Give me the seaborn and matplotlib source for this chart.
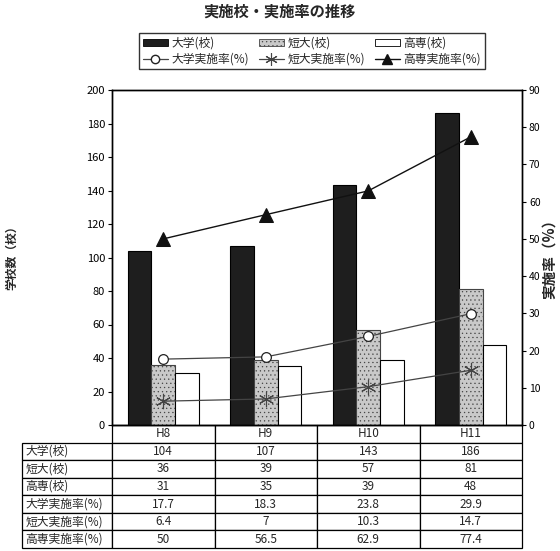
import matplotlib
matplotlib.use("Agg")
import matplotlib.pyplot as plt
from matplotlib.patches import Patch
from matplotlib.lines import Line2D
import pandas as pd
import seaborn as sns

years = ["H8", "H9", "H10", "H11"]
univ_schools = [104, 107, 143, 186]
jc_schools = [36, 39, 57, 81]
kosen_schools = [31, 35, 39, 48]
univ_rate = [17.7, 18.3, 23.8, 29.9]
jc_rate = [6.4, 7, 10.3, 14.7]
kosen_rate = [50, 56.5, 62.9, 77.4]

bar_labels = ["大学(校)", "短大(校)", "高専(校)"]
rate_labels = ["大学実施率(%)", "短大実施率(%)", "高専実施率(%)"]

sns.set_style("white")
plt.rcParams["font.family"] = ["Noto Sans CJK JP", "DejaVu Sans"]
plt.rcParams["hatch.linewidth"] = 0.4

bars_df = pd.DataFrame({
    "year": years * 3,
    "kind": [bar_labels[0]] * 4 + [bar_labels[1]] * 4 + [bar_labels[2]] * 4,
    "count": univ_schools + jc_schools + kosen_schools,
})
rates_df = pd.DataFrame({
    "year": years,
    "univ": univ_rate,
    "jc": jc_rate,
    "kosen": kosen_rate,
})

W, H = 560, 551
fig = plt.figure(figsize=(W / 100, H / 100), dpi=100)
x0, x1, y_top, y_bot = 112, 522, 90, 425
ax = fig.add_axes([x0 / W, 1 - y_bot / H, (x1 - x0) / W, (y_bot - y_top) / H])

bar_colors = ["#1e1e1e", "#c9c9c9", "white"]
sns.barplot(data=bars_df, x="year", y="count", hue="kind", palette=bar_colors,
            width=0.69, gap=0, edgecolor="black", linewidth=0.8,
            legend=False, ax=ax)
for cont, hatch in zip(ax.containers, [None, "....", None]):
    for p in cont:
        if hatch:
            p.set_hatch(hatch)
            p.set_edgecolor("#444444")

ax.set_ylim(0, 200)
ax.set_yticks(range(0, 201, 20))
ax.set_xlabel("")
ax.set_ylabel("")
ax.tick_params(axis="x", bottom=False, labelbottom=False)
ax.tick_params(axis="y", left=True, direction="out", length=3, width=0.8,
               labelsize=8, pad=2, colors="black")

ax2 = ax.twinx()
sns.pointplot(data=rates_df, x="year", y="univ", ax=ax2, color="#444444",
              marker="o", markersize=7, markerfacecolor="white",
              markeredgecolor="#222222", markeredgewidth=0.9, linewidth=0.9,
              errorbar=None)
sns.pointplot(data=rates_df, x="year", y="jc", ax=ax2, color="#444444",
              marker=(6, 2, 0), markersize=11, markeredgewidth=0.8,
              linewidth=0.9, errorbar=None)
sns.pointplot(data=rates_df, x="year", y="kosen", ax=ax2, color="#111111",
              marker="^", markersize=10, linewidth=1.0, errorbar=None)
ax2.set_ylim(0, 90)
ax2.set_yticks(range(0, 91, 10))
ax2.set_xlabel("")
ax2.set_ylabel("")
ax2.tick_params(axis="x", bottom=False, labelbottom=False)
ax2.tick_params(axis="y", right=True, direction="out", length=3, width=0.8,
                labelsize=7.5, pad=2, colors="black")

for a in (ax, ax2):
    for s in a.spines.values():
        s.set_visible(True)
        s.set_color("black")
        s.set_linewidth(1)

# data table under the plot
fmt = lambda v: f"{v:g}"
cell_text = [[""] + years]
for lab, vals in zip(bar_labels + rate_labels,
                     [univ_schools, jc_schools, kosen_schools,
                      univ_rate, jc_rate, kosen_rate]):
    cell_text.append([lab] + [fmt(v) for v in vals])

tx0, tbot = 22, 548
aw, ah = x1 - x0, y_bot - y_top
col_w = [90, 102.5, 102.5, 102.5, 102.5]
tbl = ax.table(cellText=cell_text, cellLoc="center",
               colWidths=[c / sum(col_w) for c in col_w],
               bbox=[(tx0 - x0) / aw, -(tbot - y_bot) / ah,
                     (x1 - tx0) / aw, (tbot - y_bot) / ah])
tbl.auto_set_font_size(False)
tbl.set_fontsize(8.5)
for (r, c), cell in tbl.get_celld().items():
    cell.set_linewidth(0.9)
    cell.set_edgecolor("black")
    if r == 0 and c == 0:
        cell.visible_edges = ""
    elif c == 0:
        cell.PAD = 0.04
        cell.get_text().set_horizontalalignment("left")

# legend box above the plot
handles = [
    Patch(facecolor=bar_colors[0], edgecolor="black", linewidth=0.6),
    Line2D([], [], color="#444444", marker="o", markerfacecolor="white",
           markeredgecolor="#222222", markersize=6, linewidth=0.9),
    Patch(facecolor=bar_colors[1], edgecolor="#444444", hatch="....", linewidth=0.6),
    Line2D([], [], color="#444444", marker=(6, 2, 0), markersize=9,
           markeredgewidth=0.8, linewidth=0.9),
    Patch(facecolor="white", edgecolor="black", linewidth=0.6),
    Line2D([], [], color="#111111", marker="^", markersize=7, linewidth=1.0),
]
labels = [bar_labels[0], rate_labels[0], bar_labels[1], rate_labels[1],
          bar_labels[2], rate_labels[2]]
leg = fig.legend(handles, labels, ncol=3, loc="center",
                 bbox_to_anchor=(312 / W, 1 - 51 / H), fontsize=8.5,
                 frameon=True, fancybox=False, edgecolor="black",
                 handlelength=2.1, handleheight=0.6, handletextpad=0.35,
                 columnspacing=0.8, borderpad=0.3, labelspacing=0.25)
leg.get_frame().set_linewidth(1)

fig.text(280 / W, 1 - 12 / H, "実施校・実施率の推移", ha="center", va="center",
         fontsize=11, fontweight="bold")
fig.text(12 / W, 1 - 255 / H, "学校数（校）", rotation=90, ha="center",
         va="center", fontsize=8.5, fontweight="bold")
fig.text(549 / W, 1 - 255 / H, "実施率（%）", rotation=90, ha="center",
         va="center", fontsize=10.5, fontweight="bold")

fig.savefig("out.png", dpi=100)
